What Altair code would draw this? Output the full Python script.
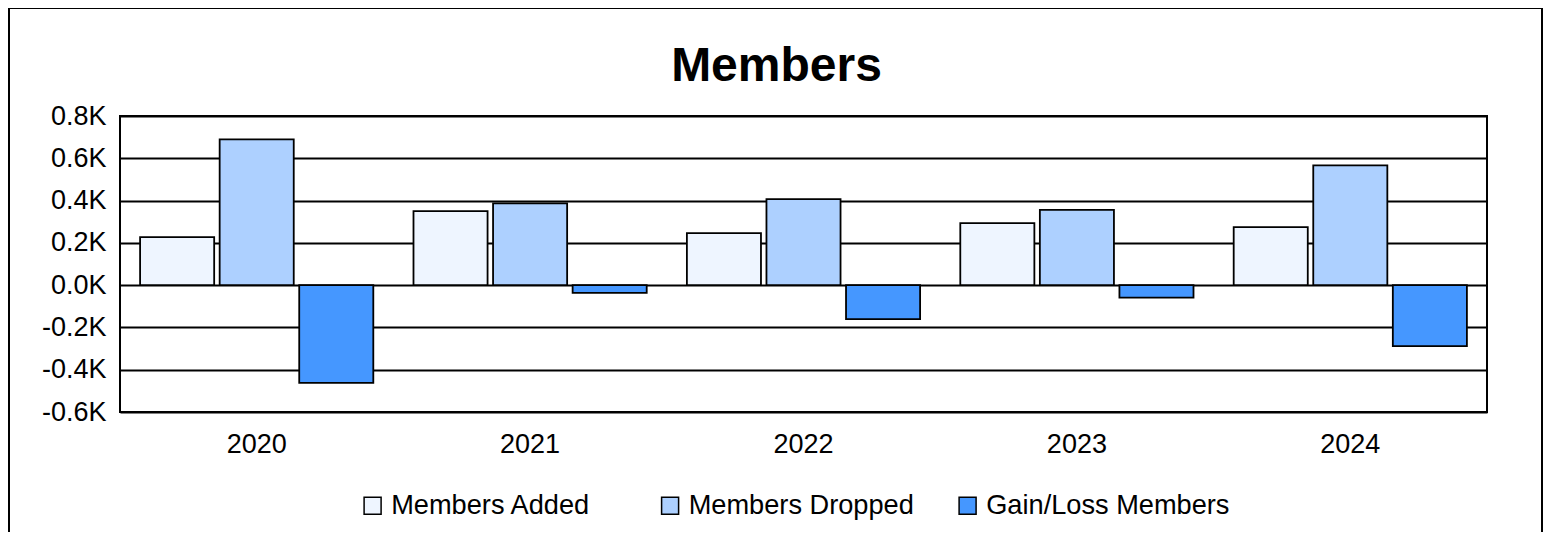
import altair as alt
import pandas as pd

years = ["2020", "2021", "2022", "2023", "2024"]
series = ["Members Added", "Members Dropped", "Gain/Loss Members"]
members_added = [227, 350, 246, 293, 274]
members_dropped = [689, 387, 407, 356, 566]
gain_loss = [-462, -37, -161, -59, -288]
colors = ["#EEF5FF", "#ADD0FF", "#4597FF"]
y_ticks = [-600, -400, -200, 0, 200, 400, 600, 800]

rows = []
for i, y in enumerate(years):
    for s, vals in zip(series, [members_added, members_dropped, gain_loss]):
        rows.append({"Year": y, "Series": s, "Value": vals[i]})
df = pd.DataFrame(rows)

FONT = "Liberation Sans"
W, H = 1367, 296

bars = alt.Chart(df).mark_bar(stroke="black", strokeWidth=1.8).encode(
    x=alt.X("Year:N", sort=years, title=None,
            scale=alt.Scale(paddingInner=0.147, paddingOuter=0.0735),
            axis=alt.Axis(labelAngle=0, labelFontSize=27, labelFont=FONT, labelColor="black",
                          ticks=False, tickSize=0, domain=False, labelPadding=19, grid=False)),
    xOffset=alt.XOffset("Series:N", sort=series,
                        scale=alt.Scale(paddingInner=0.069, paddingOuter=0)),
    y=alt.Y("Value:Q", title=None,
            scale=alt.Scale(domain=[-600, 800], nice=False, zero=True),
            axis=alt.Axis(values=y_ticks, labelFontSize=27, labelFont=FONT, labelColor="black",
                          ticks=False, tickSize=0, domain=False, labelPadding=14,
                          grid=True, gridColor="black", gridWidth=2, gridOpacity=1,
                          labelExpr="(datum.value < 0 ? '-' : '') + format(abs(datum.value) / 1000, '.1f') + 'K'")),
    color=alt.Color("Series:N", sort=series,
                    scale=alt.Scale(domain=series, range=colors),
                    legend=alt.Legend(title=None, orient="none", legendX=239, legendY=376,
                                      direction="horizontal", columns=3, gridAlign="all",
                                      columnPadding=21.5, labelFontSize=27.2, labelFont=FONT,
                                      labelColor="black", labelOffset=5, labelLimit=500,
                                      symbolType="square",
                                      symbolSize=289, symbolStrokeColor="black",
                                      symbolStrokeWidth=1.5, symbolOpacity=1, padding=0)),
)

frame = alt.Chart(alt.Data(values=[{"a": 1}])).mark_rect(
    fill="transparent", stroke="black", strokeWidth=2
).encode(
    x=alt.value(-111), x2=alt.value(1422), y=alt.value(-108), y2=alt.value(460)
)

chart = alt.layer(bars, frame).properties(
    width=W, height=H,
    title=alt.TitleParams("Members", fontSize=48, font=FONT, fontWeight="bold", color="black",
                          anchor="middle", baseline="alphabetic", offset=34, dx=-27, dy=156),
    autosize=alt.AutoSizeParams(type="none"),
    padding={"left": 112, "top": 108, "right": 56, "bottom": 120},
).configure(background="white").configure_view(stroke="black", strokeWidth=2, strokeOpacity=1)

chart.save("out.html", embed_options={"renderer": "svg", "actions": False})
